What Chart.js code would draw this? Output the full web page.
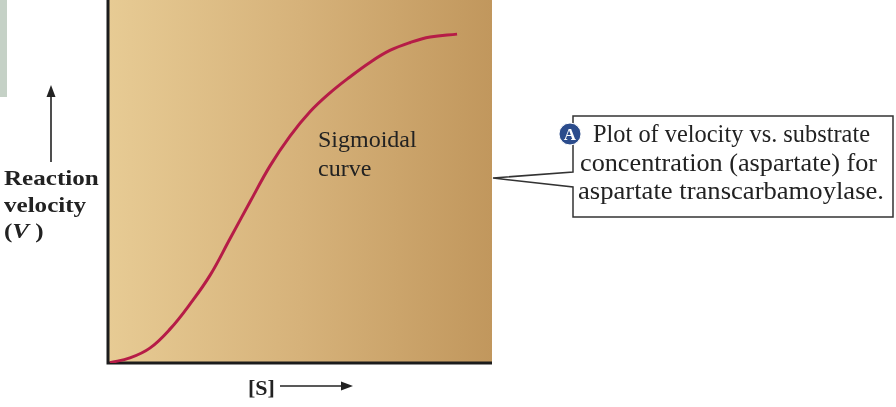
<!DOCTYPE html>
<html>
<head>
<meta charset="utf-8">
<script src="https://cdn.jsdelivr.net/npm/chart.js@4/dist/chart.umd.min.js"></script>
<style>
  html, body { margin: 0; padding: 0; background: #ffffff; }
  #wrap { position: relative; width: 896px; height: 407px; overflow: hidden; }
  #c { position: absolute; left: 0; top: 0; }
  #ov { position: absolute; left: 0; top: 0; pointer-events: none; }
  text { font-family: "Liberation Serif", "Times New Roman", serif; fill: #222; }
</style>
</head>
<body>
<div id="wrap">
  <canvas id="c" width="896" height="407"></canvas>
  <svg id="ov" width="896" height="407" xmlns="http://www.w3.org/2000/svg">
    <rect x="0" y="0" width="7" height="97" fill="#c5d1c6"/>
    <!-- y-axis label and arrow -->
    <line x1="51" y1="162" x2="51" y2="94" stroke="#222" stroke-width="1.6"/>
    <polygon points="51,85 46.5,97 55.5,97" fill="#222"/>
    <text transform="translate(4,185) scale(1.14,1)" font-size="22" font-weight="bold">Reaction</text>
    <text transform="translate(4,212) scale(1.14,1)" font-size="22" font-weight="bold">velocity</text>
    <text transform="translate(4,238) scale(1.14,1)" font-size="22" font-weight="bold">(<tspan font-style="italic">V</tspan> )</text>
    <!-- x-axis label and arrow -->
    <text x="248" y="395" font-size="22" font-weight="bold">[S]</text>
    <line x1="280" y1="386" x2="344" y2="386" stroke="#222" stroke-width="1.6"/>
    <polygon points="353,386 341,381.5 341,390.5" fill="#222"/>
    <!-- in-plot label -->
    <text x="318" y="147" font-size="24" fill="#2a2a2a">Sigmoidal</text>
    <text x="318" y="176" font-size="24" fill="#2a2a2a">curve</text>
    <!-- callout -->
    <path d="M573,172 L573,116 L893,116 L893,217 L573,217 L573,187 L493,178 Z" fill="#ffffff" stroke="#333" stroke-width="1.5"/>
    <circle cx="570" cy="134" r="11" fill="#2b4c8c" stroke="#ffffff" stroke-width="1"/>
    <text x="570" y="140" font-size="17" font-weight="bold" text-anchor="middle" style="fill:#ffffff">A</text>
    <text x="593" y="142" font-size="25" textLength="277" lengthAdjust="spacingAndGlyphs">Plot of velocity vs. substrate</text>
    <text x="580" y="170.5" font-size="25" textLength="297" lengthAdjust="spacingAndGlyphs">concentration (aspartate) for</text>
    <text x="578" y="199" font-size="25" textLength="306" lengthAdjust="spacingAndGlyphs">aspartate transcarbamoylase.</text>
  </svg>
</div>
<script>
// Substrate concentration [S] (relative units, 0-100) and reaction velocity V (relative units, 0-100)
const sValues = [0.5, 5.7, 10.9, 16.2, 21.4, 26.6, 31.8, 37.0, 42.2, 47.4, 52.6, 57.8, 63.0, 68.2, 73.4, 78.7, 83.9, 90.9];
const velocityValues = [0.1, 1.4, 4.1, 9.4, 16.3, 24.2, 34.3, 44.4, 54.3, 62.5, 69.2, 74.4, 78.8, 82.8, 86.1, 88.3, 89.8, 90.6];

const points = sValues.map((s, i) => ({ x: s, y: velocityValues[i] }));

const bgPlugin = {
  id: 'bgGradient',
  beforeDraw(chart) {
    const { ctx, chartArea: a } = chart;
    const g = ctx.createLinearGradient(a.left, 0, a.right, 0);
    g.addColorStop(0, '#e7cb94');
    g.addColorStop(0.5, '#d6b27a');
    g.addColorStop(1, '#c1975d');
    ctx.save();
    ctx.fillStyle = g;
    ctx.fillRect(a.left, a.top, a.right - a.left, a.bottom - a.top);
    ctx.restore();
  },
  beforeDatasetsDraw(chart) {
    const { ctx, chartArea: a } = chart;
    ctx.save();
    ctx.strokeStyle = '#1c1c1c';
    ctx.lineWidth = 3;
    ctx.beginPath();
    ctx.moveTo(a.left, a.top);
    ctx.lineTo(a.left, a.bottom);
    ctx.lineTo(a.right, a.bottom);
    ctx.stroke();
    ctx.restore();
  }
};

new Chart(document.getElementById('c'), {
  type: 'line',
  data: {
    datasets: [{
      data: points,
      borderColor: '#b61c47',
      borderWidth: 3,
      pointRadius: 0,
      fill: false,
      tension: 0.4
    }]
  },
  options: {
    responsive: false,
    animation: false,
    devicePixelRatio: 1,
    layout: { padding: { left: 108, right: 404, top: 0, bottom: 44 } },
    plugins: { legend: { display: false }, tooltip: { enabled: false } },
    scales: {
      x: { type: 'linear', min: 0, max: 100, display: false },
      y: { type: 'linear', min: 0, max: 100, display: false }
    }
  },
  plugins: [bgPlugin]
});
</script>
</body>
</html>
